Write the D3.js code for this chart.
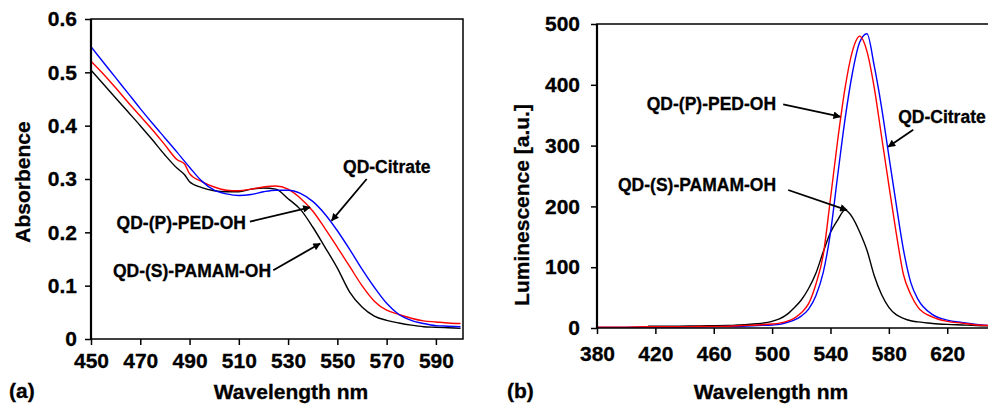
<!DOCTYPE html>
<html>
<head>
<meta charset="utf-8">
<script src="https://cdn.jsdelivr.net/npm/d3@7"></script>
<style>
  body { margin: 0; background: #fff; }
  svg text { font-family: "Liberation Sans", Arial, Helvetica, sans-serif; font-weight: bold; fill: #000; stroke: #000; stroke-width: 0.3px; }
</style>
</head>
<body>
<svg id="chart" width="988" height="406"></svg>
<script>
// (a) absorbance spectra
const absWl = [450, 455, 460, 465, 470, 475, 480, 485, 488, 490, 495, 500, 505, 510, 515, 520, 525, 530, 535, 540, 545, 550, 555, 560, 565, 570, 575, 580, 585, 590, 595, 600];
const absCitrate = [0.548, 0.519, 0.49, 0.461, 0.432, 0.404, 0.377, 0.35, 0.333, 0.322, 0.296, 0.279, 0.272, 0.269, 0.271, 0.276, 0.279, 0.279, 0.273, 0.258, 0.234, 0.203, 0.168, 0.131, 0.097, 0.067, 0.046, 0.035, 0.029, 0.025, 0.024, 0.023];
const absPed = [0.521, 0.497, 0.471, 0.444, 0.418, 0.392, 0.364, 0.336, 0.328, 0.31, 0.295, 0.285, 0.279, 0.278, 0.281, 0.285, 0.287, 0.281, 0.264, 0.24, 0.207, 0.172, 0.136, 0.1, 0.071, 0.054, 0.046, 0.039, 0.034, 0.032, 0.03, 0.029];
const absPamam = [0.504, 0.478, 0.452, 0.426, 0.4, 0.373, 0.345, 0.32, 0.308, 0.295, 0.284, 0.278, 0.276, 0.276, 0.281, 0.283, 0.281, 0.263, 0.243, 0.21, 0.172, 0.133, 0.088, 0.06, 0.043, 0.035, 0.03, 0.026, 0.023, 0.022, 0.021, 0.02];
const absXTicks = [450, 470, 490, 510, 530, 550, 570, 590];
const absYTicks = [0, 0.1, 0.2, 0.3, 0.4, 0.5, 0.6];

// (b) luminescence spectra
const lumWl = [380, 400, 415, 430, 450, 470, 480, 490, 500, 505, 510, 515, 520, 525, 530, 535, 540, 545, 550, 555, 560, 565, 570, 575, 580, 585, 590, 595, 600, 610, 620, 630, 640, 650];
const lumCitrate = [1, 1, 1.5, 1.5, 2, 2.5, 3, 4, 5, 6, 9, 13, 19.6, 31, 53, 91, 157, 252, 344, 419, 470, 484, 431, 363, 283, 204, 129, 75, 47, 22, 13, 9, 6, 4];
const lumPed = [1.5, 1.5, 2, 2, 2.5, 3, 4, 5, 6.5, 8, 11, 16, 25, 40, 72, 120, 213, 310, 395, 455, 480, 455, 395, 315, 235, 157, 88, 55, 34, 18, 11, 8, 5, 4];
const lumPamam = [null, null, 3, 3, 3.5, 4, 5.5, 7, 11, 15, 22, 33, 46, 65, 90, 125, 157, 178, 194, 182, 158, 128, 86, 55, 34, 22, 16, 12, 10, 7.5, 6, 5, 4, 3.5];
const lumXTicks = [380, 420, 460, 500, 540, 580, 620];
const lumYTicks = [0, 100, 200, 300, 400, 500];

// labels: text position and arrow [from, to] in data units
const absNotes = [
  { text: "QD-Citrate", at: [552.3, 0.312], from: [561.9, 0.3], to: [547.7, 0.222] },
  { text: "QD-(P)-PED-OH", at: [460.4, 0.206], from: [514.5, 0.22], to: [538.9, 0.247] },
  { text: "QD-(S)-PAMAM-OH", at: [458.9, 0.116], from: [524, 0.129], to: [543, 0.179] }
];
const lumNotes = [
  { text: "QD-(P)-PED-OH", at: [414.1, 358.6], from: [507.6, 368], to: [546.7, 347.5] },
  { text: "QD-Citrate", at: [586.4, 337], from: [596.7, 326], to: [579.6, 298] },
  { text: "QD-(S)-PAMAM-OH", at: [394.4, 225], from: [511, 227], to: [551.3, 194] }
];

const svg = d3.select("#chart");

svg.append("defs").append("marker")
  .attr("id", "head")
  .attr("viewBox", "0 0 10 10")
  .attr("refX", 9).attr("refY", 5)
  .attr("markerWidth", 5.5).attr("markerHeight", 4.2)
  .attr("markerUnits", "strokeWidth")
  .attr("orient", "auto")
  .append("path").attr("d", "M0,0 L10,5 L0,10 z").attr("fill", "#000");

function panel(o) {
  const x = d3.scaleLinear().domain(o.xDomain).range([o.left, o.right]);
  const y = d3.scaleLinear().domain(o.yDomain).range([o.bottom, o.top]);
  const g = svg.append("g");

  g.append("clipPath").attr("id", o.id + "-clip")
    .append("rect").attr("x", o.left).attr("y", o.top)
    .attr("width", o.right - o.left).attr("height", o.bottom - o.top);

  const xAxis = g.append("g").attr("transform", `translate(0,${o.bottom})`)
    .call(d3.axisBottom(x).tickValues(o.xTicks).tickSize(6).tickSizeOuter(0).tickPadding(o.xPad).tickFormat(d3.format("d")));
  const yAxis = g.append("g").attr("transform", `translate(${o.left},0)`)
    .call(d3.axisLeft(y).tickValues(o.yTicks).tickSize(6).tickSizeOuter(0).tickPadding(o.yPad).tickFormat(o.yFormat));
  [xAxis, yAxis].forEach(a => {
    a.select(".domain").remove();
    a.selectAll("line").attr("stroke", "#000").attr("stroke-width", 1.5);
    a.selectAll("text").attr("font-size", 21);
  });

  const lines = g.append("g").attr("clip-path", `url(#${o.id}-clip)`);
  const line = d3.line()
    .defined(d => d[1] != null)
    .x(d => x(d[0])).y(d => y(d[1]))
    .curve(d3.curveMonotoneX);
  o.series.forEach(s => {
    lines.append("path")
      .datum(o.wl.map((w, i) => [w, s.values[i]]))
      .attr("fill", "none").attr("stroke", s.color).attr("stroke-width", 1.4)
      .attr("d", line);
  });

  g.append("rect")
    .attr("x", o.left).attr("y", o.top)
    .attr("width", o.right - o.left).attr("height", o.bottom - o.top)
    .attr("fill", "none").attr("stroke", "#000").attr("stroke-width", 1.5);
  g.append("line").attr("x1", o.left).attr("x2", o.left).attr("y1", o.top).attr("y2", o.bottom + 0.75)
    .attr("stroke", "#000").attr("stroke-width", 2.2);

  o.notes.forEach(n => {
    g.append("text").text(n.text)
      .attr("x", x(n.at[0])).attr("y", y(n.at[1]))
      .attr("font-size", 17.5);
    g.append("line")
      .attr("x1", x(n.from[0])).attr("y1", y(n.from[1]))
      .attr("x2", x(n.to[0])).attr("y2", y(n.to[1]))
      .attr("stroke", "#000").attr("stroke-width", 1.8)
      .attr("marker-end", "url(#head)");
  });

  svg.append("text").text(o.yTitle)
    .attr("transform", `translate(${o.yTitleX},${(o.top + o.bottom) / 2 + o.yTitleShift}) rotate(-90)`)
    .attr("text-anchor", "middle").attr("font-size", 21);
  svg.append("text").text("Wavelength nm")
    .attr("x", o.xTitleX).attr("y", 399)
    .attr("text-anchor", "middle").attr("font-size", 21);
  svg.append("text").text(o.tag)
    .attr("x", o.tagX).attr("y", 398).attr("font-size", 21);
}

panel({
  id: "abs", left: 91, right: 463, top: 19, bottom: 339,
  xDomain: [450, 601], yDomain: [0, 0.6],
  xTicks: absXTicks, yTicks: absYTicks, xPad: 8, yPad: 8,
  yFormat: d => d === 0 ? "0" : d3.format(".1f")(d),
  wl: absWl,
  series: [
    { values: absPamam, color: "#000000" },
    { values: absPed, color: "#ff0000" },
    { values: absCitrate, color: "#0000ff" }
  ],
  notes: absNotes,
  yTitle: "Absorbence", yTitleX: 30, yTitleShift: 3,
  xTitleX: 291, tag: "(a)", tagX: 9
});

panel({
  id: "lum", left: 597, right: 991, top: 24, bottom: 328,
  xDomain: [380, 650], yDomain: [0, 500],
  xTicks: lumXTicks, yTicks: lumYTicks, xPad: 12, yPad: 11,
  yFormat: d3.format("d"),
  wl: lumWl,
  series: [
    { values: lumPamam, color: "#000000" },
    { values: lumCitrate, color: "#0000ff" },
    { values: lumPed, color: "#ff0000" }
  ],
  notes: lumNotes,
  yTitle: "Luminescence [a.u.]", yTitleX: 529, yTitleShift: 29,
  xTitleX: 771, tag: "(b)", tagX: 507
});
</script>
</body>
</html>
